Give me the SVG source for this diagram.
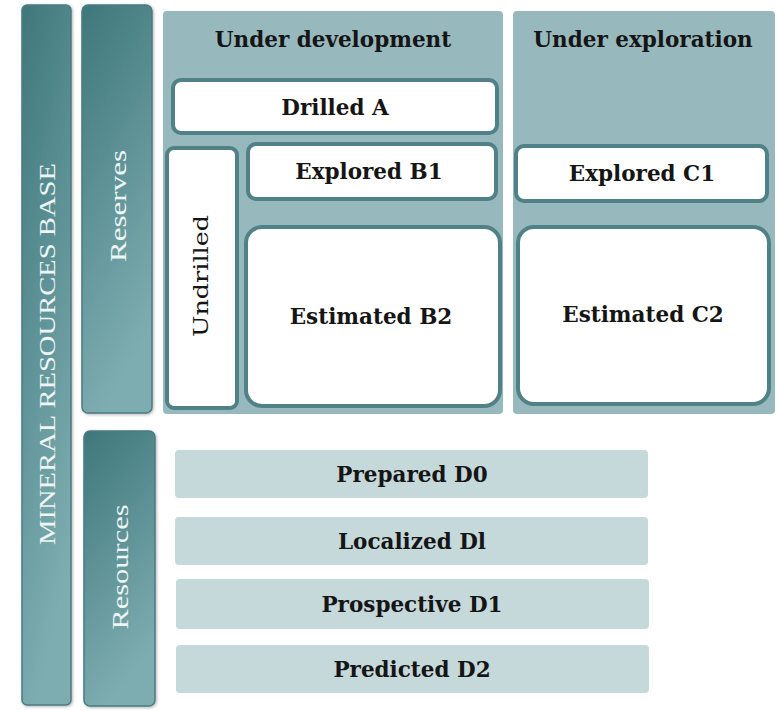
<svg xmlns="http://www.w3.org/2000/svg" width="777" height="710" viewBox="0 0 777 710">
<defs>
<linearGradient id="bar" x1="0" y1="0" x2="0.3" y2="1">
<stop offset="0" stop-color="#3e777b"/>
<stop offset="1" stop-color="#7eadb1"/>
</linearGradient>
<filter id="sh" x="-20%" y="-5%" width="140%" height="110%">
<feDropShadow dx="1" dy="1" stdDeviation="1.5" flood-color="#000" flood-opacity="0.3"/>
</filter>
</defs>
<style>
.bar{fill:url(#bar);stroke:#4b7b80;stroke-width:1.5}
.panel{fill:#97b9bd}
.box{fill:#fff;stroke:#4f8186;stroke-width:4}
.row{fill:#c5d8da}
.t{font-family:"DejaVu Serif","Liberation Serif",serif;font-weight:bold;font-size:21.5px;fill:#151515;text-anchor:middle;dominant-baseline:central}
.v{font-family:"DejaVu Serif","Liberation Serif",serif;font-weight:normal;font-size:21px;fill:#151515;text-anchor:middle;dominant-baseline:central}
.w{font-family:"Liberation Serif","Times New Roman",serif;fill:#eef5f5;text-anchor:middle;dominant-baseline:central}
</style>
<rect width="777" height="710" fill="#fff"/>
<g id="base"><rect class="bar" x="22" y="5" width="49" height="700" rx="5" filter="url(#sh)"/>
<text class="w" font-size="23" textLength="382" lengthAdjust="spacingAndGlyphs" transform="translate(47,354) rotate(-90)">MINERAL RESOURCES BASE</text></g>
<g id="reserves"><rect class="bar" x="82" y="5" width="70" height="408" rx="6" filter="url(#sh)"/>
<text class="w" font-size="23" textLength="112" lengthAdjust="spacingAndGlyphs" transform="translate(118,206) rotate(-90)">Reserves</text></g>
<g id="resources"><rect class="bar" x="84" y="431" width="71" height="275" rx="6" filter="url(#sh)"/>
<text class="w" font-size="23" textLength="125" lengthAdjust="spacingAndGlyphs" transform="translate(120,567) rotate(-90)">Resources</text></g>
<g id="under-development"><rect class="panel" x="163" y="11" width="340" height="403" rx="4"/>
<text class="t" x="333" y="39">Under development</text></g>
<g id="under-exploration"><rect class="panel" x="513" y="11" width="262" height="403" rx="4"/>
<text class="t" x="643" y="39">Under exploration</text></g>
<g id="drilled-a"><rect class="box" x="173" y="80" width="324" height="53" rx="8"/>
<text class="t" x="335" y="107">Drilled A</text></g>
<g id="undrilled"><rect class="box" x="167" y="148" width="70" height="260" rx="7"/>
<text class="v" textLength="122" lengthAdjust="spacingAndGlyphs" transform="translate(201,276) rotate(-90)">Undrilled</text></g>
<g id="explored-b1"><rect class="box" x="248" y="144" width="248" height="55" rx="8"/>
<text class="t" x="369" y="171">Explored B1</text></g>
<g id="estimated-b2"><rect class="box" x="246" y="227" width="254" height="179" rx="16"/>
<text class="t" x="371" y="316">Estimated B2</text></g>
<g id="explored-c1"><rect class="box" x="516" y="146" width="251" height="55" rx="8"/>
<text class="t" x="642" y="173">Explored C1</text></g>
<g id="estimated-c2"><rect class="box" x="518" y="227" width="251" height="177" rx="16"/>
<text class="t" x="643" y="314">Estimated C2</text></g>
<g id="prepared-d0"><rect class="row" x="175" y="450" width="473" height="48" rx="4"/>
<text class="t" x="412" y="474">Prepared D0</text></g>
<g id="localized-dl"><rect class="row" x="175" y="517" width="473" height="48" rx="4"/>
<text class="t" x="412" y="541">Localized Dl</text></g>
<g id="prospective-d1"><rect class="row" x="176" y="579" width="473" height="50" rx="4"/>
<text class="t" x="412" y="604">Prospective D1</text></g>
<g id="predicted-d2"><rect class="row" x="176" y="645" width="473" height="48" rx="4"/>
<text class="t" x="412" y="669">Predicted D2</text></g>
<g id="connectors"></g>
</svg>
